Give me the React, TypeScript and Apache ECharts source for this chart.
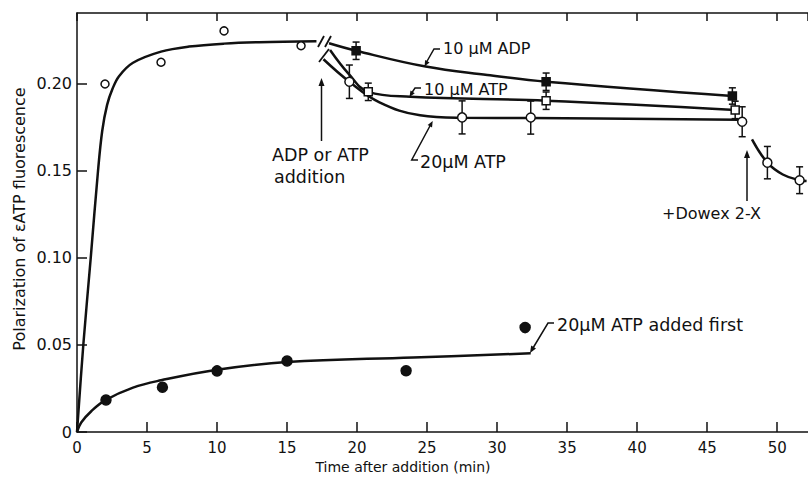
import React, { useEffect, useRef } from 'react';
import * as echarts from 'echarts';

// ---- Data ----
const xTicks = [0, 5, 10, 15, 20, 25, 30, 35, 40, 45, 50];
const yTicks = [0, 0.05, 0.1, 0.15, 0.2];

// initial binding, open circles + fitted curve
const initT = [2.0, 6.0, 10.5, 16.0];
const initV = [0.2, 0.2125, 0.2305, 0.222];
const initFitT = [0, 0.45, 0.98, 1.5, 1.8, 2.15, 2.55, 3.0, 4.0, 6, 8, 10.5, 13, 17.1];
const initFitV = [0, 0.05, 0.1, 0.15, 0.173, 0.188, 0.1975, 0.2045, 0.2122, 0.2186, 0.2215, 0.2232, 0.224, 0.2245];

// 20 uM ATP added first, filled circles + curve
const firstT = [2.07, 6.1, 10.0, 15.0, 23.5, 32.0];
const firstV = [0.0184, 0.0257, 0.0351, 0.0408, 0.0352, 0.06];
const firstFitT = [0, 0.3, 1.0, 2.0, 4, 6, 10, 15, 24, 32.4];
const firstFitV = [0, 0.0055, 0.0118, 0.0182, 0.0255, 0.0297, 0.0358, 0.0402, 0.0428, 0.0452];

// 10 uM ADP, filled squares
const adpT = [19.93, 33.5, 46.8];
const adpV = [0.2191, 0.2013, 0.1931];
const adpErr = [0.005, 0.005, 0.0047];
const adpFitT = [18.0, 19.93, 24.9, 29.3, 33.5, 46.8];
const adpFitV = [0.2234, 0.2191, 0.21, 0.2052, 0.2013, 0.1931];

// 10 uM ATP, open squares
const atp10T = [20.8, 33.5, 47.0];
const atp10V = [0.1955, 0.1904, 0.1851];
const atp10Err = [0.005, 0.005, 0.005];
const atp10FitT = [18.07, 19.4, 20.8, 23.8, 33.5, 47.0];
const atp10FitV = [0.2195, 0.2058, 0.1955, 0.1927, 0.1904, 0.1851];

// 20 uM ATP, open circles
const atp20T = [19.45, 27.5, 32.4, 47.5];
const atp20V = [0.2013, 0.1808, 0.1807, 0.1783];
const atp20Err = [0.0096, 0.0095, 0.0095, 0.0086];
const atp20FitT = [17.6, 19.45, 21.6, 24.5, 27.5, 32.4, 47.3];
const atp20FitV = [0.2142, 0.2013, 0.1895, 0.182, 0.1806, 0.1804, 0.1795];

// after Dowex 2-X
const dowexT = [49.3, 51.6];
const dowexV = [0.1548, 0.1447];
const dowexErr = [0.0093, 0.0077];
const dowexFitT = [48.2, 49.3, 50.4, 51.6, 52.1];
const dowexFitV = [0.1682, 0.1548, 0.148, 0.1447, 0.1442];

const zip = (a: number[], b: number[]) => a.map((v, i) => [v, b[i]]);
const zip3 = (a: number[], b: number[], c: number[]) => a.map((v, i) => [v, b[i], c[i]]);

const INK = '#111';
const FONT = 'DejaVu Sans';

function arrowHead(tx: number, ty: number, fx: number, fy: number, len = 8, half = 3) {
  const dx = tx - fx, dy = ty - fy;
  const d = Math.hypot(dx, dy) || 1;
  const ux = dx / d, uy = dy / d;
  const bx = tx - ux * len, by = ty - uy * len;
  return {
    type: 'polygon',
    shape: { points: [[tx, ty], [bx - uy * half, by + ux * half], [bx + uy * half, by - ux * half]] },
    style: { fill: INK },
    z: 100,
  };
}
const seg = (x1: number, y1: number, x2: number, y2: number, w = 1.5) => ({
  type: 'line', shape: { x1, y1, x2, y2 }, style: { stroke: INK, lineWidth: w }, z: 100,
});
const pline = (pts: number[][], w = 1.5) => ({
  type: 'polyline', shape: { points: pts }, style: { stroke: INK, lineWidth: w, fill: 'none' }, z: 100,
});
const txt = (x: number, y: number, text: string, size = 16) => ({
  type: 'text', x, y, z: 100,
  style: { text, fill: INK, font: `${size}px "${FONT}"`, align: 'left', verticalAlign: 'middle' },
});

export default function App() {
  const ref = useRef<HTMLDivElement>(null);
  useEffect(() => {
    if (!ref.current) return;
    const chart = echarts.init(ref.current, undefined, { renderer: 'svg' });

    const fitLine = (data: number[][], smooth = 0.4) => ({
      type: 'line', data, symbol: 'none', smooth,
      lineStyle: { color: INK, width: 2.5 }, z: 3, silent: true,
    });
    const errSeries = (data: number[][]) => ({
      type: 'custom', data, z: 4, silent: true,
      encode: { x: 0, y: 1 },
      renderItem: (_p: any, api: any) => {
        const x = api.value(0), y = api.value(1), e = api.value(2);
        const hi = api.coord([x, y + e]);
        const lo = api.coord([x, y - e]);
        const cap = 3.5;
        const st = { stroke: INK, lineWidth: 1.5 };
        return {
          type: 'group',
          children: [
            { type: 'line', shape: { x1: hi[0], y1: hi[1], x2: lo[0], y2: lo[1] }, style: st },
            { type: 'line', shape: { x1: hi[0] - cap, y1: hi[1], x2: hi[0] + cap, y2: hi[1] }, style: st },
            { type: 'line', shape: { x1: lo[0] - cap, y1: lo[1], x2: lo[0] + cap, y2: lo[1] }, style: st },
          ],
        };
      },
    });
    const marks = (data: number[][], symbol: string, size: number, filled: boolean) => ({
      type: 'scatter', data, symbol, symbolSize: size, z: 5, silent: true,
      itemStyle: { color: filled ? INK : '#fff', borderColor: INK, borderWidth: 1.5, opacity: 1 },
    });

    const tickFmtX = (v: number) => (xTicks.includes(Math.round(v)) && Math.abs(v - Math.round(v)) < 1e-6 ? String(v) : '');
    const tickFmtY = (v: number) => {
      const hit = yTicks.find((t) => Math.abs(t - v) < 1e-9);
      if (hit === undefined) return '';
      return hit === 0 ? '0' : hit.toFixed(2);
    };

    const option: any = {
      animation: false,
      backgroundColor: '#fff',
      grid: { left: 77, right: 0, top: 13, bottom: 45, containLabel: false },
      xAxis: [
        {
          type: 'value', min: 0, max: 52.2, interval: 5, position: 'bottom',
          axisLine: { show: true, onZero: false, lineStyle: { color: INK, width: 1.5 } },
          axisTick: { show: true, inside: true, length: 10, lineStyle: { color: INK, width: 1.5 } },
          axisLabel: { show: true, margin: 8, color: INK, fontSize: 15, fontFamily: FONT, showMaxLabel: false, formatter: tickFmtX },
          splitLine: { show: false },
        },
        {
          type: 'value', min: 0, max: 52.2, interval: 5, position: 'top',
          axisLine: { show: true, onZero: false, lineStyle: { color: INK, width: 1.5 } },
          axisTick: { show: true, inside: true, length: 8, lineStyle: { color: INK, width: 1.5 } },
          axisLabel: { show: false },
          splitLine: { show: false },
        },
      ],
      yAxis: {
        type: 'value', min: 0, max: 0.2408, interval: 0.05,
        axisLine: { show: true, onZero: false, lineStyle: { color: INK, width: 1.5 } },
        axisTick: { show: true, inside: true, length: 10, lineStyle: { color: INK, width: 1.5 } },
        axisLabel: { show: true, margin: 5, color: INK, fontSize: 16, fontFamily: FONT, showMaxLabel: false, formatter: tickFmtY },
        splitLine: { show: false },
      },
      series: [
        fitLine(zip(initFitT, initFitV), 0.35),
        fitLine(zip(firstFitT, firstFitV), 0.4),
        fitLine(zip(adpFitT, adpFitV), 0.4),
        fitLine(zip(atp10FitT, atp10FitV), 0.4),
        fitLine(zip(atp20FitT, atp20FitV), 0.4),
        fitLine(zip(dowexFitT, dowexFitV), 0.4),
        errSeries(zip3(adpT, adpV, adpErr)),
        errSeries(zip3(atp10T, atp10V, atp10Err)),
        errSeries(zip3(atp20T, atp20V, atp20Err)),
        errSeries(zip3(dowexT, dowexV, dowexErr)),
        marks(zip(initT, initV), 'circle', 8, false),
        marks(zip(firstT, firstV), 'circle', 10, true),
        marks(zip(adpT, adpV), 'rect', 8, true),
        marks(zip(atp10T, atp10V), 'rect', 8, false),
        marks(zip(atp20T, atp20V), 'circle', 9, false),
        marks(zip(dowexT, dowexV), 'circle', 9, false),
      ],
      graphic: [
        // axis titles
        {
          type: 'text', x: 19, y: 219, rotation: Math.PI / 2, z: 100,
          style: { text: 'Polarization of \u03b5ATP fluorescence', fill: INK, font: `16px "${FONT}"`, align: 'center', verticalAlign: 'middle' },
        },
        {
          type: 'text', x: 403, y: 467, z: 100,
          style: { text: 'Time after addition (min)', fill: INK, font: `14px "${FONT}"`, align: 'center', verticalAlign: 'middle' },
        },
        // break marks
        seg(318, 47, 324, 36, 1.8),
        seg(325, 47, 331, 36, 1.8),
        seg(319, 62, 329, 49, 1.8),
        // ADP or ATP addition
        seg(321.5, 141, 321.5, 86),
        arrowHead(321.5, 78, 321.5, 90),
        txt(272, 155, 'ADP or ATP', 17.5),
        txt(274, 177, 'addition', 17.5),
        // 10 uM ADP
        pline([[440, 49], [434, 49], [426, 63]]),
        arrowHead(424.5, 66.5, 434, 49, 6, 2.5),
        txt(443, 48, '10 \u00b5M ADP'),
        // 10 uM ATP
        pline([[421, 88], [415, 88], [411, 94]]),
        arrowHead(409.5, 97, 415, 88, 6, 2.5),
        txt(424, 89, '10 \u00b5M ATP'),
        // 20 uM ATP
        pline([[418, 160], [411.7, 160], [431, 124]]),
        arrowHead(432.7, 121, 411.7, 160, 6, 2.5),
        txt(420, 162, '20\u00b5M ATP', 17.5),
        // Dowex
        seg(747, 201, 747, 158),
        arrowHead(747, 150, 747, 162),
        txt(662, 213, '+Dowex 2-X'),
        // added first
        pline([[554, 323], [548, 323], [533, 348]]),
        arrowHead(530, 353, 548, 323, 7, 2.8),
        txt(557, 325, '20\u00b5M ATP added first', 17.5),
      ],
    };
    chart.setOption(option);
    return () => chart.dispose();
  }, []);
  return (
    <div
      ref={ref}
      style={{ position: 'absolute', left: 0, top: 0, width: 808, height: 477, background: '#fff' }}
    />
  );
}
